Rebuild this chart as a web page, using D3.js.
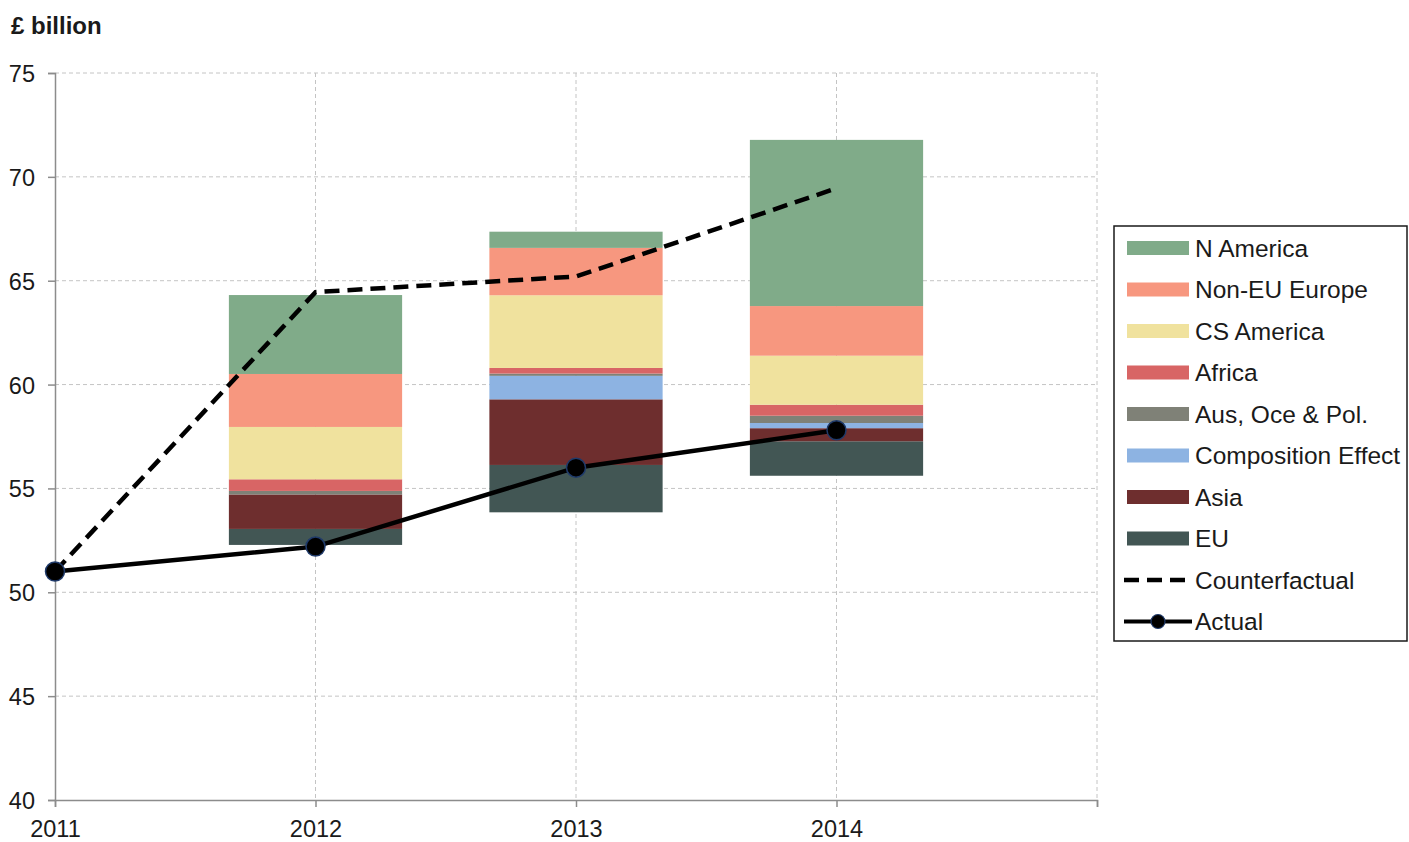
<!DOCTYPE html>
<html>
<head>
<meta charset="utf-8">
<script src="https://cdn.jsdelivr.net/npm/d3@7"></script>
<style>
  body { margin: 0; background: #fff; }
  svg { display: block; font-family: "Liberation Sans", Arial, sans-serif; }
</style>
</head>
<body>
<div id="chart-container"></div>
<script>
// data
const years = [2011, 2012, 2013, 2014];
const barYears = [2012, 2013, 2014];
const barBase = [52.28, 53.85, 55.61];
const euValues = [0.77, 2.28, 1.66];
const asiaValues = [1.66, 3.16, 0.63];
const compositionValues = [0, 1.13, 0.25];
const ausValues = [0.17, 0.11, 0.35];
const africaValues = [0.56, 0.27, 0.53];
const csAmericaValues = [2.52, 3.50, 2.36];
const nonEuValues = [2.55, 2.28, 2.39];
const nAmericaValues = [3.80, 0.78, 8.00];
const counterfactual = [51.0, 64.45, 65.2, 69.45];
const actual = [51.0, 52.2, 56.0, 57.8];
const yTicks = [40, 45, 50, 55, 60, 65, 70, 75];

const seriesKeys = ["EU", "Asia", "Composition Effect", "Aus, Oce & Pol.", "Africa", "CS America", "Non-EU Europe", "N America"];
const seriesValues = [euValues, asiaValues, compositionValues, ausValues, africaValues, csAmericaValues, nonEuValues, nAmericaValues];

const color = {
  "N America": "#80ab89",
  "Non-EU Europe": "#f7977f",
  "CS America": "#f0e29e",
  "Africa": "#d86565",
  "Aus, Oce & Pol.": "#7f8177",
  "Composition Effect": "#8db3e2",
  "Asia": "#6e2e2e",
  "EU": "#425654"
};

const W = 1409, H = 842;
const margin = { top: 73, left: 55, right: 312, bottom: 42 };
const width = W - margin.left - margin.right;
const height = H - margin.top - margin.bottom;

const svg = d3.select("#chart-container")
  .append("svg")
  .attr("width", W)
  .attr("height", H);

const g = svg.append("g")
  .attr("transform", `translate(${margin.left},${margin.top})`);

const x = d3.scaleLinear().domain([2011, 2015]).range([0, width]);
const y = d3.scaleLinear().domain([40, 75]).range([height, 0]);

// grid
g.append("g").selectAll("line")
  .data(yTicks.slice(1))
  .join("line")
  .attr("x1", 0).attr("x2", width)
  .attr("y1", d => y(d)).attr("y2", d => y(d))
  .attr("stroke", "#c4c4c4").attr("stroke-dasharray", "4,3");
g.append("g").selectAll("line")
  .data([2012, 2013, 2014, 2015])
  .join("line")
  .attr("x1", d => x(d)).attr("x2", d => x(d))
  .attr("y1", 0).attr("y2", height)
  .attr("stroke", "#c4c4c4").attr("stroke-dasharray", "4,3");

// stacked bars (base is invisible)
const table = barYears.map((yr, i) => {
  const row = { year: yr, base: barBase[i] };
  seriesKeys.forEach((k, j) => row[k] = seriesValues[j][i]);
  return row;
});
const stack = d3.stack().keys(["base", ...seriesKeys])(table);
const barW = x(2011.665) - x(2011);

g.append("g").selectAll("g")
  .data(stack.filter(s => s.key !== "base"))
  .join("g")
  .attr("fill", s => color[s.key])
  .selectAll("rect")
  .data(s => s.filter(d => d[1] - d[0] > 0))
  .join("rect")
  .attr("x", d => x(d.data.year) - barW / 2)
  .attr("width", barW)
  .attr("y", d => y(d[1]))
  .attr("height", d => y(d[0]) - y(d[1]));

// axes
const axisColor = "#8c8c8c";
const yAxis = g.append("g")
  .call(d3.axisLeft(y).tickValues(yTicks).tickSize(7).tickPadding(13));
const xAxis = g.append("g")
  .attr("transform", `translate(0,${height})`)
  .call(d3.axisBottom(x).tickValues([2011, 2012, 2013, 2014, 2015]).tickSize(7).tickPadding(14)
    .tickFormat(d => d === 2015 ? "" : d));
[yAxis, xAxis].forEach(a => {
  a.select(".domain").attr("stroke", axisColor).attr("stroke-width", 1.5);
  a.selectAll(".tick line").attr("stroke", axisColor).attr("stroke-width", 1.5);
  a.selectAll("text").attr("font-size", 23.5).attr("fill", "#1a1a1a")
    .attr("font-family", "'Liberation Sans', Arial, sans-serif");
});
yAxis.selectAll("text").attr("dy", "0.36em");
xAxis.selectAll("text").attr("dy", "0.7em");

// lines
const line = d3.line().x((d, i) => x(years[i])).y(d => y(d));
g.append("path")
  .datum(counterfactual)
  .attr("d", line)
  .attr("fill", "none")
  .attr("stroke", "#000")
  .attr("stroke-width", 4.5)
  .attr("stroke-dasharray", "15,8");
g.append("path")
  .datum(actual)
  .attr("d", line)
  .attr("fill", "none")
  .attr("stroke", "#000")
  .attr("stroke-width", 4.5);
g.append("g").selectAll("circle")
  .data(actual)
  .join("circle")
  .attr("cx", (d, i) => x(years[i]))
  .attr("cy", d => y(d))
  .attr("r", 9.5)
  .attr("fill", "#000")
  .attr("stroke", "#1f3a6a")
  .attr("stroke-width", 1.5);

// unit label
svg.append("text")
  .attr("x", 11).attr("y", 34)
  .attr("font-size", 24).attr("font-weight", "bold")
  .attr("fill", "#1a1a1a")
  .text("£ billion");

// legend
const legend = svg.append("g").attr("transform", "translate(1114,226)");
legend.append("rect")
  .attr("x", 0).attr("y", 0)
  .attr("width", 293).attr("height", 415)
  .attr("fill", "#fff").attr("stroke", "#1a1a1a").attr("stroke-width", 1.5);

const legendItems = [...seriesKeys].reverse().concat(["Counterfactual", "Actual"]);
const step = 41.5;
legendItems.forEach((name, i) => {
  const cy = 22 + i * step;
  const item = legend.append("g");
  if (color[name]) {
    item.append("rect")
      .attr("x", 13).attr("y", cy - 7)
      .attr("width", 62).attr("height", 14)
      .attr("fill", color[name]);
  } else if (name === "Counterfactual") {
    item.append("line")
      .attr("x1", 10).attr("x2", 76).attr("y1", cy).attr("y2", cy)
      .attr("stroke", "#000").attr("stroke-width", 4.5)
      .attr("stroke-dasharray", "15,8");
  } else {
    item.append("line")
      .attr("x1", 10).attr("x2", 78).attr("y1", cy).attr("y2", cy)
      .attr("stroke", "#000").attr("stroke-width", 4);
    item.append("circle")
      .attr("cx", 44).attr("cy", cy).attr("r", 7)
      .attr("fill", "#000").attr("stroke", "#1f3a6a").attr("stroke-width", 1.2);
  }
  item.append("text")
    .attr("x", 81).attr("y", cy + 8.5)
    .attr("font-size", 24.5)
    .attr("fill", "#1a1a1a")
    .text(name);
});
</script>
</body>
</html>
